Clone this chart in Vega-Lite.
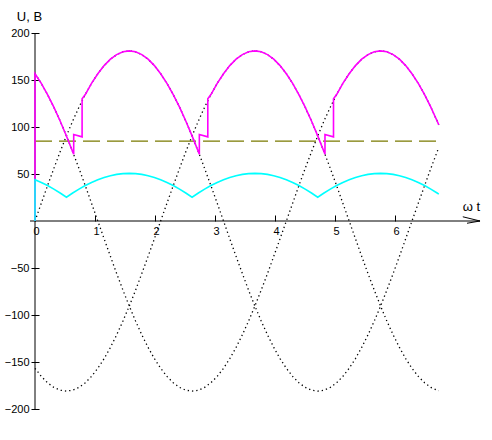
{
  "$schema": "https://vega.github.io/schema/vega-lite/v6.json",
  "width": 480,
  "height": 376,
  "autosize": {"type": "none"},
  "padding": {"left": 5, "top": 33, "right": 7, "bottom": 31},
  "background": "white",
  "config": {"view": {"stroke": null}},
  "datasets": {
    "phases": [
      {"t":0,"a":0,"b":-156.7,"c":156.7},
      {"t":0.105,"a":18.9,"b":-165.3,"c":146.4},
      {"t":0.209,"a":37.6,"b":-172.1,"c":134.5},
      {"t":0.314,"a":55.9,"b":-177,"c":121.1},
      {"t":0.419,"a":73.6,"b":-180,"c":106.4},
      {"t":0.524,"a":90.5,"b":-181,"c":90.5},
      {"t":0.628,"a":106.4,"b":-180,"c":73.6},
      {"t":0.733,"a":121.1,"b":-177,"c":55.9},
      {"t":0.838,"a":134.5,"b":-172.1,"c":37.6},
      {"t":0.942,"a":146.4,"b":-165.3,"c":18.9},
      {"t":1.047,"a":156.7,"b":-156.7,"c":0},
      {"t":1.152,"a":165.3,"b":-146.4,"c":-18.9},
      {"t":1.257,"a":172.1,"b":-134.5,"c":-37.6},
      {"t":1.361,"a":177,"b":-121.1,"c":-55.9},
      {"t":1.466,"a":180,"b":-106.4,"c":-73.6},
      {"t":1.571,"a":181,"b":-90.5,"c":-90.5},
      {"t":1.676,"a":180,"b":-73.6,"c":-106.4},
      {"t":1.780,"a":177,"b":-55.9,"c":-121.1},
      {"t":1.885,"a":172.1,"b":-37.6,"c":-134.5},
      {"t":1.990,"a":165.3,"b":-18.9,"c":-146.4},
      {"t":2.094,"a":156.7,"b":0,"c":-156.7},
      {"t":2.199,"a":146.4,"b":18.9,"c":-165.3},
      {"t":2.304,"a":134.5,"b":37.6,"c":-172.1},
      {"t":2.409,"a":121.1,"b":55.9,"c":-177},
      {"t":2.513,"a":106.4,"b":73.6,"c":-180},
      {"t":2.618,"a":90.5,"b":90.5,"c":-181},
      {"t":2.723,"a":73.6,"b":106.4,"c":-180},
      {"t":2.827,"a":55.9,"b":121.1,"c":-177},
      {"t":2.932,"a":37.6,"b":134.5,"c":-172.1},
      {"t":3.037,"a":18.9,"b":146.4,"c":-165.3},
      {"t":3.142,"a":0,"b":156.7,"c":-156.7},
      {"t":3.246,"a":-18.9,"b":165.3,"c":-146.4},
      {"t":3.351,"a":-37.6,"b":172.1,"c":-134.5},
      {"t":3.456,"a":-55.9,"b":177,"c":-121.1},
      {"t":3.560,"a":-73.6,"b":180,"c":-106.4},
      {"t":3.665,"a":-90.5,"b":181,"c":-90.5},
      {"t":3.770,"a":-106.4,"b":180,"c":-73.6},
      {"t":3.875,"a":-121.1,"b":177,"c":-55.9},
      {"t":3.979,"a":-134.5,"b":172.1,"c":-37.6},
      {"t":4.084,"a":-146.4,"b":165.3,"c":-18.9},
      {"t":4.189,"a":-156.7,"b":156.7,"c":0},
      {"t":4.294,"a":-165.3,"b":146.4,"c":18.9},
      {"t":4.398,"a":-172.1,"b":134.5,"c":37.6},
      {"t":4.503,"a":-177,"b":121.1,"c":55.9},
      {"t":4.608,"a":-180,"b":106.4,"c":73.6},
      {"t":4.712,"a":-181,"b":90.5,"c":90.5},
      {"t":4.817,"a":-180,"b":73.6,"c":106.4},
      {"t":4.922,"a":-177,"b":55.9,"c":121.1},
      {"t":5.027,"a":-172.1,"b":37.6,"c":134.5},
      {"t":5.131,"a":-165.3,"b":18.9,"c":146.4},
      {"t":5.236,"a":-156.7,"b":0,"c":156.7},
      {"t":5.341,"a":-146.4,"b":-18.9,"c":165.3},
      {"t":5.445,"a":-134.5,"b":-37.6,"c":172.1},
      {"t":5.550,"a":-121.1,"b":-55.9,"c":177},
      {"t":5.655,"a":-106.4,"b":-73.6,"c":180},
      {"t":5.760,"a":-90.5,"b":-90.5,"c":181},
      {"t":5.864,"a":-73.6,"b":-106.4,"c":180},
      {"t":5.969,"a":-55.9,"b":-121.1,"c":177},
      {"t":6.074,"a":-37.6,"b":-134.5,"c":172.1},
      {"t":6.178,"a":-18.9,"b":-146.4,"c":165.3},
      {"t":6.283,"a":0,"b":-156.7,"c":156.7},
      {"t":6.388,"a":18.9,"b":-165.3,"c":146.4},
      {"t":6.493,"a":37.6,"b":-172.1,"c":134.5},
      {"t":6.597,"a":55.9,"b":-177,"c":121.1},
      {"t":6.702,"a":73.6,"b":-180,"c":106.4},
      {"t":6.73,"a":78.2,"b":-180.5,"c":102.3}
    ],
    "magenta": [
      {"i":0,"t":0,"v":0},
      {"i":1,"t":0,"v":156.7},
      {"i":2,"t":0.105,"v":146.4},
      {"i":3,"t":0.209,"v":134.5},
      {"i":4,"t":0.314,"v":121.1},
      {"i":5,"t":0.419,"v":106.4},
      {"i":6,"t":0.524,"v":90.5},
      {"i":7,"t":0.628,"v":73.6},
      {"i":8,"t":0.645,"v":71},
      {"i":9,"t":0.645,"v":92},
      {"i":10,"t":0.785,"v":89.5},
      {"i":11,"t":0.785,"v":130},
      {"i":12,"t":0.838,"v":134.5},
      {"i":13,"t":0.942,"v":146.4},
      {"i":14,"t":1.047,"v":156.7},
      {"i":15,"t":1.152,"v":165.3},
      {"i":16,"t":1.257,"v":172.1},
      {"i":17,"t":1.361,"v":177},
      {"i":18,"t":1.466,"v":180},
      {"i":19,"t":1.571,"v":181},
      {"i":20,"t":1.676,"v":180},
      {"i":21,"t":1.780,"v":177},
      {"i":22,"t":1.885,"v":172.1},
      {"i":23,"t":1.990,"v":165.3},
      {"i":24,"t":2.094,"v":156.7},
      {"i":25,"t":2.199,"v":146.4},
      {"i":26,"t":2.304,"v":134.5},
      {"i":27,"t":2.409,"v":121.1},
      {"i":28,"t":2.513,"v":106.4},
      {"i":29,"t":2.618,"v":90.5},
      {"i":30,"t":2.723,"v":73.6},
      {"i":31,"t":2.739,"v":71},
      {"i":32,"t":2.739,"v":92},
      {"i":33,"t":2.88,"v":89.5},
      {"i":34,"t":2.88,"v":130},
      {"i":35,"t":2.932,"v":134.5},
      {"i":36,"t":3.037,"v":146.4},
      {"i":37,"t":3.142,"v":156.7},
      {"i":38,"t":3.246,"v":165.3},
      {"i":39,"t":3.351,"v":172.1},
      {"i":40,"t":3.456,"v":177},
      {"i":41,"t":3.560,"v":180},
      {"i":42,"t":3.665,"v":181},
      {"i":43,"t":3.770,"v":180},
      {"i":44,"t":3.875,"v":177},
      {"i":45,"t":3.979,"v":172.1},
      {"i":46,"t":4.084,"v":165.3},
      {"i":47,"t":4.189,"v":156.7},
      {"i":48,"t":4.294,"v":146.4},
      {"i":49,"t":4.398,"v":134.5},
      {"i":50,"t":4.503,"v":121.1},
      {"i":51,"t":4.608,"v":106.4},
      {"i":52,"t":4.712,"v":90.5},
      {"i":53,"t":4.817,"v":73.6},
      {"i":54,"t":4.833,"v":71},
      {"i":55,"t":4.833,"v":92},
      {"i":56,"t":4.975,"v":89.5},
      {"i":57,"t":4.975,"v":130},
      {"i":58,"t":5.027,"v":134.5},
      {"i":59,"t":5.131,"v":146.4},
      {"i":60,"t":5.236,"v":156.7},
      {"i":61,"t":5.341,"v":165.3},
      {"i":62,"t":5.445,"v":172.1},
      {"i":63,"t":5.550,"v":177},
      {"i":64,"t":5.655,"v":180},
      {"i":65,"t":5.760,"v":181},
      {"i":66,"t":5.864,"v":180},
      {"i":67,"t":5.969,"v":177},
      {"i":68,"t":6.074,"v":172.1},
      {"i":69,"t":6.178,"v":165.3},
      {"i":70,"t":6.283,"v":156.7},
      {"i":71,"t":6.388,"v":146.4},
      {"i":72,"t":6.493,"v":134.5},
      {"i":73,"t":6.597,"v":121.1},
      {"i":74,"t":6.702,"v":106.4},
      {"i":75,"t":6.73,"v":102.3}
    ],
    "cyan": [
      {"i":0,"t":0,"v":0},
      {"i":1,"t":0,"v":43.9},
      {"i":2,"t":0.105,"v":41.0},
      {"i":3,"t":0.209,"v":37.7},
      {"i":4,"t":0.314,"v":33.9},
      {"i":5,"t":0.419,"v":29.8},
      {"i":6,"t":0.524,"v":25.3},
      {"i":7,"t":0.628,"v":29.8},
      {"i":8,"t":0.733,"v":33.9},
      {"i":9,"t":0.838,"v":37.7},
      {"i":10,"t":0.942,"v":41.0},
      {"i":11,"t":1.047,"v":43.9},
      {"i":12,"t":1.152,"v":46.3},
      {"i":13,"t":1.257,"v":48.2},
      {"i":14,"t":1.361,"v":49.6},
      {"i":15,"t":1.466,"v":50.4},
      {"i":16,"t":1.571,"v":50.7},
      {"i":17,"t":1.676,"v":50.4},
      {"i":18,"t":1.780,"v":49.6},
      {"i":19,"t":1.885,"v":48.2},
      {"i":20,"t":1.990,"v":46.3},
      {"i":21,"t":2.094,"v":43.9},
      {"i":22,"t":2.199,"v":41.0},
      {"i":23,"t":2.304,"v":37.7},
      {"i":24,"t":2.409,"v":33.9},
      {"i":25,"t":2.513,"v":29.8},
      {"i":26,"t":2.618,"v":25.3},
      {"i":27,"t":2.723,"v":29.8},
      {"i":28,"t":2.827,"v":33.9},
      {"i":29,"t":2.932,"v":37.7},
      {"i":30,"t":3.037,"v":41.0},
      {"i":31,"t":3.142,"v":43.9},
      {"i":32,"t":3.246,"v":46.3},
      {"i":33,"t":3.351,"v":48.2},
      {"i":34,"t":3.456,"v":49.6},
      {"i":35,"t":3.560,"v":50.4},
      {"i":36,"t":3.665,"v":50.7},
      {"i":37,"t":3.770,"v":50.4},
      {"i":38,"t":3.875,"v":49.6},
      {"i":39,"t":3.979,"v":48.2},
      {"i":40,"t":4.084,"v":46.3},
      {"i":41,"t":4.189,"v":43.9},
      {"i":42,"t":4.294,"v":41.0},
      {"i":43,"t":4.398,"v":37.7},
      {"i":44,"t":4.503,"v":33.9},
      {"i":45,"t":4.608,"v":29.8},
      {"i":46,"t":4.712,"v":25.3},
      {"i":47,"t":4.817,"v":29.8},
      {"i":48,"t":4.922,"v":33.9},
      {"i":49,"t":5.027,"v":37.7},
      {"i":50,"t":5.131,"v":41.0},
      {"i":51,"t":5.236,"v":43.9},
      {"i":52,"t":5.341,"v":46.3},
      {"i":53,"t":5.445,"v":48.2},
      {"i":54,"t":5.550,"v":49.6},
      {"i":55,"t":5.655,"v":50.4},
      {"i":56,"t":5.760,"v":50.7},
      {"i":57,"t":5.864,"v":50.4},
      {"i":58,"t":5.969,"v":49.6},
      {"i":59,"t":6.074,"v":48.2},
      {"i":60,"t":6.178,"v":46.3},
      {"i":61,"t":6.283,"v":43.9},
      {"i":62,"t":6.388,"v":41.0},
      {"i":63,"t":6.493,"v":37.7},
      {"i":64,"t":6.597,"v":33.9},
      {"i":65,"t":6.702,"v":29.8},
      {"i":66,"t":6.73,"v":28.6}
    ],
    "level": [{"t":0,"t2":6.73,"v":85}],
    "guides": [
      {"t":-0.083,"v":0,"t2":7.417,"v2":0},
      {"t":0,"v":-200,"t2":0,"v2":200},
      {"t":7.13,"v":4.5,"t2":7.417,"v2":0},
      {"t":7.2,"v":-2.4,"t2":7.417,"v2":0}
    ]
  },
  "encoding": {
    "x": {
      "field": "t",
      "type": "quantitative",
      "scale": {"domain": [-0.5, 7.5], "nice": false, "zero": false},
      "axis": {
        "values": [0, 1, 2, 3, 4, 5, 6],
        "offset": -194,
        "tickSize": 6,
        "domain": false,
        "grid": false,
        "labelPadding": 4,
        "labelBaseline": "top",
        "labelFlush": false,
        "labelOffset": 1,
        "labelFont": "Liberation Sans",
        "labelFontSize": 11,
        "labelColor": "black",
        "tickColor": "black",
        "title": "ω t",
        "titleX": 466,
        "titleY": -5,
        "titleAlign": "center",
        "titleBaseline": "alphabetic",
        "titleFont": "Liberation Sans",
        "titleFontSize": 13,
        "titleFontWeight": "normal",
        "titleColor": "black"
      }
    },
    "y": {
      "field": "v",
      "type": "quantitative",
      "scale": {"domain": [-200, 200], "nice": false, "zero": false},
      "axis": {
        "values": [-200, -150, -100, -50, 50, 100, 150, 200],
        "offset": -34,
        "tickSize": 8,
        "domain": false,
        "grid": false,
        "labelPadding": 2,
        "labelFont": "Liberation Sans",
        "labelFontSize": 11,
        "labelColor": "black",
        "tickColor": "black",
        "title": "U, B",
        "titleAngle": 0,
        "titleX": -10,
        "titleY": -17,
        "titleAlign": "center",
        "titleBaseline": "middle",
        "titleFont": "Liberation Sans",
        "titleFontSize": 13,
        "titleFontWeight": "normal",
        "titleColor": "black"
      }
    }
  },
  "layer": [
    {
      "data": {"name": "guides"},
      "mark": {"type": "rule", "color": "black", "strokeWidth": 1},
      "encoding": {"x2": {"field": "t2"}, "y2": {"field": "v2"}}
    },
    {
      "data": {"name": "phases"},
      "transform": [{"fold": ["a", "b", "c"], "as": ["s", "v"]}],
      "mark": {"type": "line", "color": "black", "strokeWidth": 1.3, "strokeDash": [1.3, 3]},
      "encoding": {"detail": {"field": "s"}}
    },
    {
      "data": {"name": "level"},
      "mark": {"type": "rule", "color": "#7a7a00", "strokeWidth": 1.1, "strokeDash": [17, 7]},
      "encoding": {"x2": {"field": "t2"}}
    },
    {
      "data": {"name": "magenta"},
      "mark": {"type": "line", "color": "#ff00ff", "strokeWidth": 1.6},
      "encoding": {"order": {"field": "i", "type": "quantitative"}}
    },
    {
      "data": {"name": "cyan"},
      "mark": {"type": "line", "color": "#00ffff", "strokeWidth": 1.6},
      "encoding": {"order": {"field": "i", "type": "quantitative"}}
    }
  ]
}
